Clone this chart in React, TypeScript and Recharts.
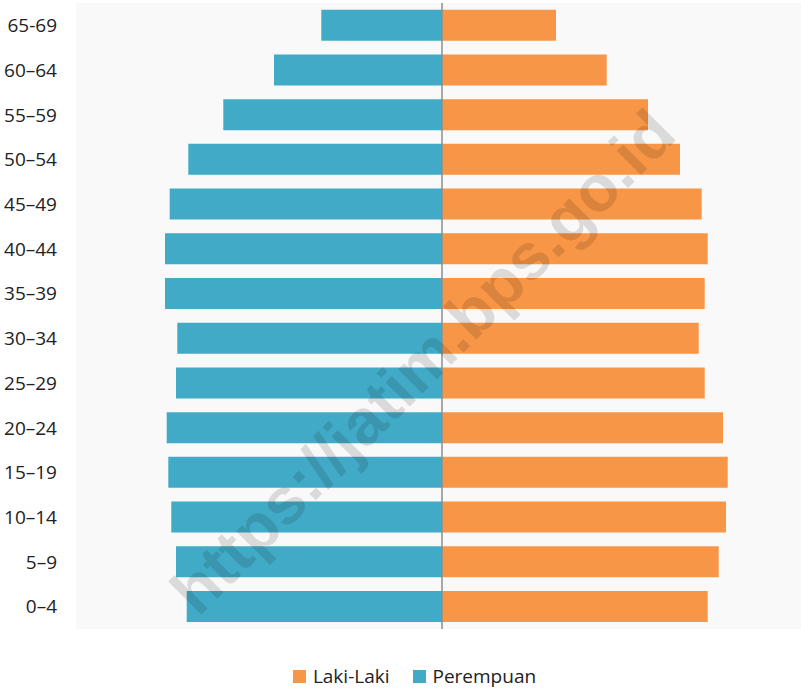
import React from 'react';
import { BarChart, Bar, XAxis, YAxis, CartesianGrid, ReferenceLine, Legend } from 'recharts';

// age groups, top to bottom
const ageGroups = ['65-69', '60–64', '55–59', '50–54', '45–49', '40–44', '35–39', '30–34', '25–29', '20–24', '15–19', '10–14', '5–9', '0–4'];
const lakiLaki = [11400, 16470, 20600, 23800, 25970, 26570, 26270, 25670, 26270, 28100, 28570, 28400, 27670, 26570];
const perempuan = [12070, 16800, 21870, 25370, 27230, 27700, 27700, 26470, 26600, 27530, 27370, 27070, 26600, 25530];

const ORANGE = '#f79646';
const BLUE = '#41abc7';
const FONT = '"Open Sans", "DejaVu Sans", sans-serif';

const data = ageGroups.map((age, i) => ({
  age,
  laki: lakiLaki[i],
  perempuan: -perempuan[i],
}));

function LegendBox({ payload }: any) {
  return (
    <div style={{ display: 'flex', justifyContent: 'center', alignItems: 'center', height: 24, paddingLeft: 28, fontFamily: FONT, fontSize: 19, color: '#222' }}>
      {(payload || []).map((p: any, i: number) => (
        <div key={p.value} style={{ display: 'flex', alignItems: 'center', marginLeft: i ? 23 : 0 }}>
          <span style={{ width: 13, height: 13, background: p.color, display: 'inline-block', marginRight: 7 }} />
          <span>{p.value}</span>
        </div>
      ))}
    </div>
  );
}

export default function App() {
  return (
    <div style={{ position: 'absolute', left: 0, top: 0, width: 801, height: 688, background: '#fff' }}>
      <BarChart
        width={801}
        height={688}
        data={data}
        layout="vertical"
        stackOffset="sign"
        barCategoryGap="15%"
        margin={{ top: 3, right: 0, bottom: 35, left: 0 }}
      >
        <CartesianGrid fill="#f9f9f9" horizontal={false} vertical={false} />
        <XAxis type="number" hide domain={[-36600, 35900]} />
        <YAxis
          type="category"
          dataKey="age"
          width={76}
          axisLine={false}
          tickLine={false}
          tickSize={0}
          tickMargin={19}
          tick={{ fill: '#222', fontSize: 19, fontFamily: FONT }}
        />
        <Legend content={<LegendBox />} verticalAlign="bottom" wrapperStyle={{ bottom: 0, left: 0, width: 801 }} />
        <Bar dataKey="laki" name="Laki-Laki" stackId="a" fill={ORANGE} isAnimationActive={false} />
        <Bar dataKey="perempuan" name="Perempuan" stackId="a" fill={BLUE} isAnimationActive={false} />
        <ReferenceLine x={0} stroke="#8c8c8c" strokeWidth={1.5} />
      </BarChart>
      <svg width={801} height={688} style={{ position: 'absolute', left: 0, top: 0, pointerEvents: 'none' }}>
        <text
          x={423}
          y={384}
          textAnchor="middle"
          transform="rotate(-45 423 362)"
          fontFamily='"Liberation Sans", Arial, sans-serif'
          fontWeight="bold"
          fontSize={65}
          textLength={680}
          lengthAdjust="spacingAndGlyphs"
          fill="#000"
          fillOpacity={0.12}
        >
          https://jatim.bps.go.id
        </text>
      </svg>
    </div>
  );
}
